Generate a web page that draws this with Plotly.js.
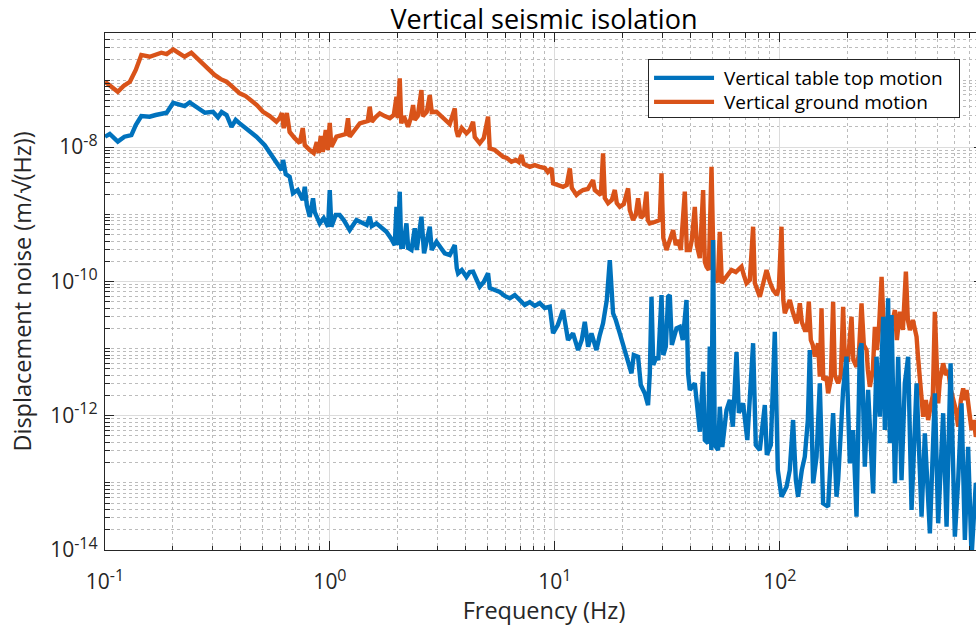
<!DOCTYPE html>
<html>
<head>
<meta charset="utf-8">
<script src="https://cdn.plot.ly/plotly-3.0.1.min.js"></script>
<style>
  html, body { margin: 0; padding: 0; background: #ffffff; overflow: hidden; }
  #chart { width: 1000px; height: 626px; }
</style>
</head>
<body>
<div id="chart"></div>
<script>
// Vertical ground motion (amplitude spectral density, m/sqrt(Hz))
const freqGround = [
  0.1, 0.106, 0.114, 0.121, 0.129, 0.137, 0.145, 0.158, 0.168, 0.178,
  0.188, 0.201, 0.213, 0.226, 0.242, 0.256, 0.273, 0.289, 0.307, 0.327,
  0.347, 0.370, 0.397, 0.422, 0.448, 0.473, 0.504, 0.540, 0.578, 0.598,
  0.611, 0.623, 0.643, 0.662, 0.697, 0.734, 0.757, 0.773, 0.813, 0.847,
  0.874, 0.892, 0.910, 0.929, 0.958, 0.978, 0.998, 1.015, 1.069, 1.128,
  1.175, 1.203, 1.224, 1.289, 1.357, 1.428, 1.472, 1.503, 1.534, 1.598,
  1.665, 1.752, 1.845, 1.922, 1.976, 2.002, 2.043, 2.075, 2.129, 2.225,
  2.287, 2.342, 2.382, 2.456, 2.551, 2.585, 2.693, 2.778, 2.835, 2.975,
  3.109, 3.239, 3.409, 3.589, 3.644, 3.712, 3.855, 4.045, 4.184, 4.327,
  4.404, 4.634, 4.828, 5.045, 5.133, 5.403, 5.629, 5.883, 6.109, 6.410,
  6.700, 6.909, 7.102, 7.271, 7.731, 8.137, 8.564, 9.016, 9.296, 9.656,
  9.815, 10.30, 10.87, 11.29, 11.65, 11.89, 12.47, 12.90, 13.34, 14.00,
  14.78, 15.04, 15.56, 16.00, 16.37, 16.67, 17.24, 17.90, 18.46, 18.84,
  19.43, 20.24, 21.15, 21.52, 22.26, 22.88, 23.43, 24.09, 24.84, 25.54,
  25.88, 26.42, 27.80, 29.26, 29.78, 30.33, 31.34, 32.42, 33.53, 34.47,
  35.29, 36.28, 37.80, 38.58, 39.79, 40.61, 41.88, 42.75, 44.08, 45.60,
  46.40, 47.21, 48.33, 49.68, 50.86, 52.28, 52.99, 54.08, 55.21, 58.10,
  60.96, 63.71, 67.53, 69.15, 71.09, 73.53, 76.05, 77.40, 79.80, 81.45,
  84.00, 87.25, 90.25, 93.35, 96.94, 98.95, 101.7, 103.6, 105.2, 108.5,
  110.7, 114.2, 118.6, 120.8, 122.7, 125.2, 129.1, 131.8, 134.5, 137.3,
  140.1, 143.0, 147.9, 150.5, 153.2, 156.0, 161.2, 163.9, 168.5, 172.5,
  175.5, 181.6, 186.7, 191.1, 194.5, 201.1, 208.3, 212.2, 219.2, 224.4,
  230.7, 236.3, 242.9, 246.2, 251.2, 259.1, 264.5, 270.0, 275.5, 283.3,
  290.0, 298.1, 308.4, 318.0, 324.6, 331.3, 341.6, 352.3, 363.3, 370.7,
  378.5, 390.2, 405.3, 410.7, 419.2, 425.7, 433.6, 445.7, 456.3, 469.1,
  478.8, 488.7, 498.9, 505.6, 514.4, 532.1, 547.0, 560.1, 575.8, 589.5,
  606.1, 620.5, 637.9, 653.1, 664.4, 676.1, 692.2, 711.6, 728.5, 743.5,
  770, 800
];
const asdGround = [
  9.42e-8, 8.13e-8, 6.68e-8, 8.13e-8, 9.42e-8, 1.41e-7, 2.36e-7, 2.22e-7, 2.43e-7, 2.55e-7,
  2.43e-7, 2.86e-7, 2.52e-7, 2.22e-7, 2.55e-7, 2.12e-7, 1.77e-7, 1.46e-7, 1.19e-7, 1.03e-7,
  9.42e-8, 7.85e-8, 6.32e-8, 5.77e-8, 5.02e-8, 4.24e-8, 3.37e-8, 2.90e-8, 2.39e-8, 2.71e-8,
  3.22e-8, 1.92e-8, 3.22e-8, 1.68e-8, 1.36e-8, 1.15e-8, 1.92e-8, 1.07e-8, 9.06e-9, 8.17e-9,
  1.19e-8, 8.17e-9, 1.46e-8, 8.45e-9, 1.80e-8, 9.06e-9, 2.29e-8, 1.01e-8, 1.43e-8, 1.51e-8,
  1.57e-8, 2.69e-8, 1.43e-8, 1.80e-8, 2.26e-8, 2.37e-8, 2.45e-8, 4.00e-8, 2.39e-8, 2.81e-8,
  3.18e-8, 2.90e-8, 2.69e-8, 3.01e-8, 5.64e-8, 2.71e-8, 1.06e-7, 2.26e-8, 2.90e-8, 2.01e-8,
  2.71e-8, 4.24e-8, 2.54e-8, 2.90e-8, 7.08e-8, 2.90e-8, 3.33e-8, 5.97e-8, 3.33e-8, 3.37e-8,
  2.90e-8, 2.54e-8, 2.21e-8, 3.78e-8, 1.80e-8, 1.43e-8, 1.92e-8, 1.61e-8, 1.80e-8, 2.39e-8,
  1.41e-8, 1.14e-8, 1.36e-8, 2.84e-8, 9.59e-9, 9.06e-9, 8.17e-9, 7.19e-9, 6.89e-9, 6.07e-9,
  6.43e-9, 6.00e-9, 7.62e-9, 5.60e-9, 5.10e-9, 5.41e-9, 5.10e-9, 4.89e-9, 4.26e-9, 4.89e-9,
  2.89e-9, 2.73e-9, 2.57e-9, 2.73e-9, 4.83e-9, 2.46e-9, 1.94e-9, 2.14e-9, 2.30e-9, 2.38e-9,
  3.24e-9, 2.30e-9, 2.05e-9, 1.94e-9, 8.09e-9, 1.75e-9, 1.46e-9, 1.63e-9, 2.30e-9, 1.47e-9,
  1.29e-9, 1.42e-9, 2.43e-9, 1.16e-9, 8.20e-10, 9.75e-10, 1.73e-9, 8.79e-10, 9.75e-10, 2.17e-9,
  8.20e-10, 7.33e-10, 7.67e-10, 8.20e-10, 4.07e-9, 4.43e-10, 2.94e-10, 4.14e-10, 5.82e-10, 3.48e-10,
  4.14e-10, 2.94e-10, 2.17e-9, 2.94e-10, 2.94e-10, 4.14e-10, 1.29e-9, 3.48e-10, 2.23e-10, 2.30e-9,
  1.95e-10, 1.66e-10, 1.48e-10, 5.10e-9, 1.12e-10, 1.05e-10, 9.79e-11, 5.50e-10, 9.46e-11, 1.20e-10,
  1.48e-10, 1.38e-10, 1.66e-10, 1.24e-10, 9.38e-11, 1.05e-10, 6.53e-10, 9.46e-11, 7.45e-11, 5.92e-11,
  8.83e-11, 1.48e-10, 9.79e-11, 7.45e-11, 6.27e-11, 7.98e-11, 6.53e-10, 5.28e-11, 3.35e-11, 4.46e-11,
  5.28e-11, 3.50e-11, 2.38e-11, 3.16e-11, 4.72e-11, 2.48e-11, 1.89e-11, 1.89e-11, 4.99e-11, 1.34e-11,
  1.13e-11, 7.57e-12, 1.20e-11, 3.81e-12, 3.97e-11, 3.40e-12, 3.81e-12, 2.16e-12, 3.40e-12, 4.99e-11,
  4.04e-12, 3.04e-12, 4.04e-12, 4.20e-11, 6.75e-12, 6.75e-12, 2.98e-11, 6.75e-12, 5.37e-12, 8.02e-12,
  4.72e-11, 1.13e-11, 9.51e-12, 4.80e-12, 2.70e-12, 4.80e-12, 2.11e-11, 9.51e-12, 1.89e-11, 1.17e-10,
  1.89e-11, 9.51e-12, 1.89e-11, 2.66e-11, 3.75e-11, 1.34e-11, 3.54e-11, 1.89e-11, 1.40e-10, 2.66e-11,
  1.89e-11, 2.66e-11, 1.50e-11, 8.02e-12, 3.81e-12, 2.03e-12, 9.66e-13, 1.71e-12, 8.63e-13, 1.44e-12,
  2.03e-12, 3.54e-11, 2.42e-12, 1.53e-12, 3.40e-12, 6.03e-12, 4.04e-12, 4.80e-12, 2.42e-12, 1.71e-12,
  1.22e-12, 6.86e-13, 1.71e-12, 2.56e-12, 1.71e-12, 2.42e-12, 1.22e-12, 6.12e-13, 8.63e-13, 4.86e-13,
  7.0e-13, 5.0e-13
];

// Vertical table top motion (amplitude spectral density, m/sqrt(Hz))
const freqTable = [
  0.1, 0.105, 0.114, 0.122, 0.131, 0.137, 0.145, 0.158, 0.168, 0.178,
  0.188, 0.201, 0.215, 0.226, 0.238, 0.255, 0.278, 0.302, 0.318, 0.330,
  0.347, 0.365, 0.381, 0.397, 0.432, 0.471, 0.513, 0.558, 0.586, 0.609,
  0.619, 0.636, 0.662, 0.685, 0.719, 0.757, 0.773, 0.789, 0.813, 0.841,
  0.856, 0.901, 0.938, 0.981, 0.998, 1.015, 1.061, 1.105, 1.152, 1.224,
  1.312, 1.403, 1.457, 1.503, 1.534, 1.609, 1.682, 1.783, 1.863, 1.941,
  1.976, 2.002, 2.043, 2.075, 2.114, 2.188, 2.228, 2.303, 2.382, 2.431,
  2.551, 2.598, 2.620, 2.778, 2.835, 2.975, 3.109, 3.239, 3.409, 3.589,
  3.662, 3.712, 3.855, 4.045, 4.184, 4.327, 4.494, 4.634, 4.828, 5.045,
  5.133, 5.403, 5.687, 5.984, 6.300, 6.632, 6.981, 7.345, 7.731, 8.137,
  8.564, 9.016, 9.489, 9.815, 10.30, 10.87, 11.44, 12.04, 12.68, 13.16,
  13.58, 14.05, 14.54, 15.30, 15.83, 16.37, 17.01, 17.54, 18.14, 18.65,
  19.43, 20.45, 21.90, 22.42, 23.43, 24.09, 25.09, 25.95, 26.42, 26.88,
  27.37, 28.29, 28.82, 29.78, 30.33, 31.12, 31.86, 32.42, 33.09, 34.72,
  35.92, 37.03, 38.46, 39.09, 39.79, 41.88, 42.75, 44.08, 45.60, 46.40,
  47.96, 48.81, 49.58, 50.49, 51.38, 53.15, 54.08, 55.49, 57.94, 59.93,
  61.80, 64.18, 65.72, 68.64, 71.67, 76.05, 78.17, 81.45, 85.74, 87.51,
  91.16, 94.97, 97.93, 101.7, 107.1, 110.7, 114.5, 117.8, 120.5, 125.2,
  129.1, 133.2, 135.9, 138.7, 140.6, 145.6, 150.5, 155.7, 163.9, 172.5,
  178.6, 181.6, 191.1, 197.8, 204.7, 211.7, 219.2, 226.7, 230.7, 238.6,
  246.8, 259.8, 269.0, 278.3, 287.9, 292.9, 302.9, 308.4, 313.6, 324.6,
  335.7, 347.5, 359.4, 371.8, 385.0, 405.3, 426.5, 441.1, 464.4, 488.7,
  505.6, 532.1, 551.0, 574.1, 599.8, 620.5, 642.2, 664.4, 687.1, 711.6,
  743.5, 770, 800
];
const asdTable = [
  1.43e-8, 1.57e-8, 1.21e-8, 1.43e-8, 1.51e-8, 2.13e-8, 2.90e-8, 2.84e-8, 3.01e-8, 3.11e-8,
  3.25e-8, 4.58e-8, 4.24e-8, 4.09e-8, 4.65e-8, 3.92e-8, 3.25e-8, 3.37e-8, 2.78e-8, 3.33e-8,
  3.01e-8, 2.01e-8, 2.54e-8, 2.26e-8, 1.80e-8, 1.43e-8, 1.07e-8, 7.19e-9, 5.79e-9, 4.56e-9,
  6.43e-9, 3.97e-9, 3.62e-9, 2.05e-9, 2.30e-9, 1.63e-9, 2.57e-9, 1.37e-9, 9.20e-10, 1.73e-9,
  1.08e-9, 7.33e-10, 8.79e-10, 6.53e-10, 2.30e-9, 6.53e-10, 9.75e-10, 9.75e-10, 8.20e-10, 5.82e-10,
  8.20e-10, 7.33e-10, 6.92e-10, 9.20e-10, 6.68e-10, 7.33e-10, 6.45e-10, 5.50e-10, 4.43e-10, 3.48e-10,
  1.29e-9, 3.48e-10, 2.17e-9, 3.29e-10, 3.29e-10, 7.33e-10, 3.14e-10, 2.94e-10, 6.18e-10, 2.94e-10,
  9.20e-10, 2.74e-10, 2.62e-10, 6.53e-10, 2.94e-10, 3.90e-10, 3.14e-10, 2.62e-10, 2.47e-10, 3.48e-10,
  1.58e-10, 1.32e-10, 1.48e-10, 1.17e-10, 1.38e-10, 1.40e-10, 1.05e-10, 8.34e-11, 9.79e-11, 1.32e-10,
  7.98e-11, 7.45e-11, 6.95e-11, 6.07e-11, 5.60e-11, 6.27e-11, 5.28e-11, 4.46e-11, 4.93e-11, 4.31e-11,
  4.76e-11, 4.02e-11, 4.20e-11, 1.69e-11, 2.24e-11, 3.75e-11, 1.34e-11, 1.69e-11, 9.51e-12, 1.34e-11,
  2.51e-11, 1.07e-11, 1.69e-11, 9.51e-12, 1.59e-11, 2.38e-11, 5.28e-11, 2.08e-10, 3.35e-11, 2.66e-11,
  1.69e-11, 9.51e-12, 4.28e-12, 8.02e-12, 7.57e-12, 2.86e-12, 2.16e-12, 1.44e-12, 4.28e-12, 5.92e-11,
  5.69e-12, 7.57e-12, 6.75e-12, 6.27e-11, 8.02e-12, 1.07e-11, 5.92e-11, 6.27e-11, 1.13e-11, 2.00e-11,
  2.11e-11, 1.34e-11, 5.28e-11, 4.28e-12, 2.42e-12, 3.04e-12, 1.71e-12, 5.78e-13, 4.52e-12, 4.34e-13,
  3.88e-13, 1.07e-11, 3.08e-13, 4.14e-10, 3.66e-13, 3.08e-13, 1.36e-12, 3.42e-13, 1.22e-12, 1.71e-12,
  6.86e-13, 8.89e-12, 1.10e-12, 1.53e-12, 4.34e-13, 1.20e-11, 3.66e-13, 3.08e-13, 1.44e-12, 2.60e-13,
  3.66e-13, 1.78e-11, 1.55e-13, 6.22e-14, 8.77e-14, 1.55e-13, 8.63e-13, 1.10e-13, 6.22e-14, 1.55e-13,
  2.45e-13, 8.63e-13, 9.51e-12, 8.63e-13, 9.84e-14, 2.45e-13, 3.04e-12, 4.95e-14, 4.42e-14, 1.09e-12,
  6.22e-14, 1.10e-13, 2.42e-12, 7.57e-12, 1.95e-13, 6.12e-13, 3.13e-14, 9.51e-12, 1.20e-11, 1.74e-13,
  2.42e-12, 6.98e-14, 7.57e-12, 9.66e-13, 2.98e-11, 6.12e-13, 5.60e-11, 3.88e-13, 3.16e-11, 9.84e-14,
  7.57e-12, 1.10e-13, 3.04e-12, 7.57e-12, 3.94e-14, 3.04e-12, 3.13e-14, 5.47e-13, 1.77e-14, 2.16e-12,
  2.50e-14, 1.09e-12, 2.22e-14, 6.03e-12, 1.58e-14, 1.10e-13, 1.53e-12, 1.41e-14, 3.45e-13, 8.0e-15,
  9.95e-14, 3.0e-14, 1.0e-13
];

// Axis tick labels (decade labels with raised exponents)
const sup = function (e) { return '10<sup><span style="font-size:16px">' + e + '</span></sup>'; };
const xTickVals = [0.1, 1, 10, 100];
const xTickText = [sup('-1'), sup('0'), sup('1'), sup('2')];
const yTickVals = [1e-14, 1e-12, 1e-10, 1e-8];
const yTickText = [sup('-14'), sup('-12'), sup('-10'), sup('-8')];

// minor log ticks: every k*10^n that is not a labelled tick
const xMinor = [];
for (let d = -1; d <= 2; d++) {
  for (let k = 2; k <= 9; k++) xMinor.push(k * Math.pow(10, d));
}
const yMinor = [];
for (let n = -14; n <= -7; n++) {
  for (let k = 1; k <= 9; k++) {
    if (k === 1 && n % 2 === 0) continue;
    yMinor.push(k * Math.pow(10, n));
  }
}

const axisColor = '#262626';
const font = 'Open Sans, Noto Sans, DejaVu Sans, sans-serif';

const traces = [
  {
    x: freqGround, y: asdGround, type: 'scatter', mode: 'lines',
    name: 'Vertical ground motion',
    line: { color: '#D95319', width: 4.4 }
  },
  {
    x: freqTable, y: asdTable, type: 'scatter', mode: 'lines',
    name: 'Vertical table top motion',
    line: { color: '#0072BD', width: 4.4 }
  }
];

const commonAxis = {
  type: 'log',
  showline: true, linecolor: axisColor, linewidth: 1.2,
  mirror: 'ticks',
  ticks: 'inside', ticklen: 9, tickwidth: 1, tickcolor: axisColor,
  showgrid: true, gridcolor: '#dcdcdc', gridwidth: 1,
  zeroline: false,
  tickfont: { family: font, size: 21, color: axisColor },
  tickmode: 'array'
};

const layout = {
  width: 1000, height: 626,
  margin: { l: 105, r: 17, t: 33, b: 76 },
  paper_bgcolor: '#ffffff', plot_bgcolor: '#ffffff',
  showlegend: true,
  title: {
    text: 'Vertical seismic isolation',
    font: { family: font, size: 27, color: '#000000' },
    x: 0.5, xref: 'paper', xanchor: 'center',
    y: 0.9688, yref: 'container', yanchor: 'middle'
  },
  xaxis: Object.assign({}, commonAxis, {
    range: [-1, Math.log10(800)],
    tickvals: xTickVals, ticktext: xTickText,
    ticklabelstandoff: 13,
    minor: {
      tickmode: 'array', tickvals: xMinor,
      ticks: 'inside', ticklen: 4.5, tickcolor: axisColor,
      showgrid: true, gridcolor: '#bcbcbc', griddash: 'dot', gridwidth: 1
    },
    title: { text: 'Frequency (Hz)', font: { family: font, size: 23.5, color: axisColor }, standoff: 4 }
  }),
  yaxis: Object.assign({}, commonAxis, {
    range: [-14, -6.3],
    tickvals: yTickVals, ticktext: yTickText,
    ticklabelstandoff: 2,
    minor: {
      tickmode: 'array', tickvals: yMinor,
      ticks: 'inside', ticklen: 4.5, tickcolor: axisColor,
      showgrid: true, gridcolor: '#bcbcbc', griddash: 'dot', gridwidth: 1
    },
    title: { text: 'Displacement noise (m/\u221A(Hz))', font: { family: font, size: 23.5, color: axisColor }, standoff: 12 }
  }),
  legend: {
    x: 0.6185, y: 0.9497, xanchor: 'left', yanchor: 'top',
    bgcolor: '#ffffff', bordercolor: axisColor, borderwidth: 1,
    font: { family: font, size: 19, color: '#000000' },
    traceorder: 'reversed',
    itemwidth: 60
  }
};

Plotly.newPlot('chart', traces, layout, { displayModeBar: false, staticPlot: true }).then(function (gd) {
  // tighten the legend: 24px row pitch, a little more room after the line samples
  const leg = gd.querySelector('.legend');
  if (!leg) return;
  const rows = leg.querySelectorAll('g.traces');
  const parse = function (el) {
    const m = /translate\(\s*([-\d.]+)[ ,]+([-\d.]+)\s*\)/.exec(el.getAttribute('transform') || '');
    return m ? [parseFloat(m[1]), parseFloat(m[2])] : [0, 0];
  };
  if (rows.length === 2) {
    const p0 = parse(rows[0]);
    rows[0].setAttribute('transform', 'translate(' + p0[0] + ',' + (p0[1] - 1) + ')');
    rows[1].setAttribute('transform', 'translate(' + p0[0] + ',' + (p0[1] + 23) + ')');
  }
  leg.querySelectorAll('text.legendtext').forEach(function (t) {
    t.setAttribute('x', parseFloat(t.getAttribute('x') || 0) + 5);
  });
  const bg = leg.querySelector('rect.bg');
  if (bg) {
    bg.setAttribute('width', parseFloat(bg.getAttribute('width')) + 16);
    bg.setAttribute('height', 58);
  }
});
</script>
</body>
</html>
